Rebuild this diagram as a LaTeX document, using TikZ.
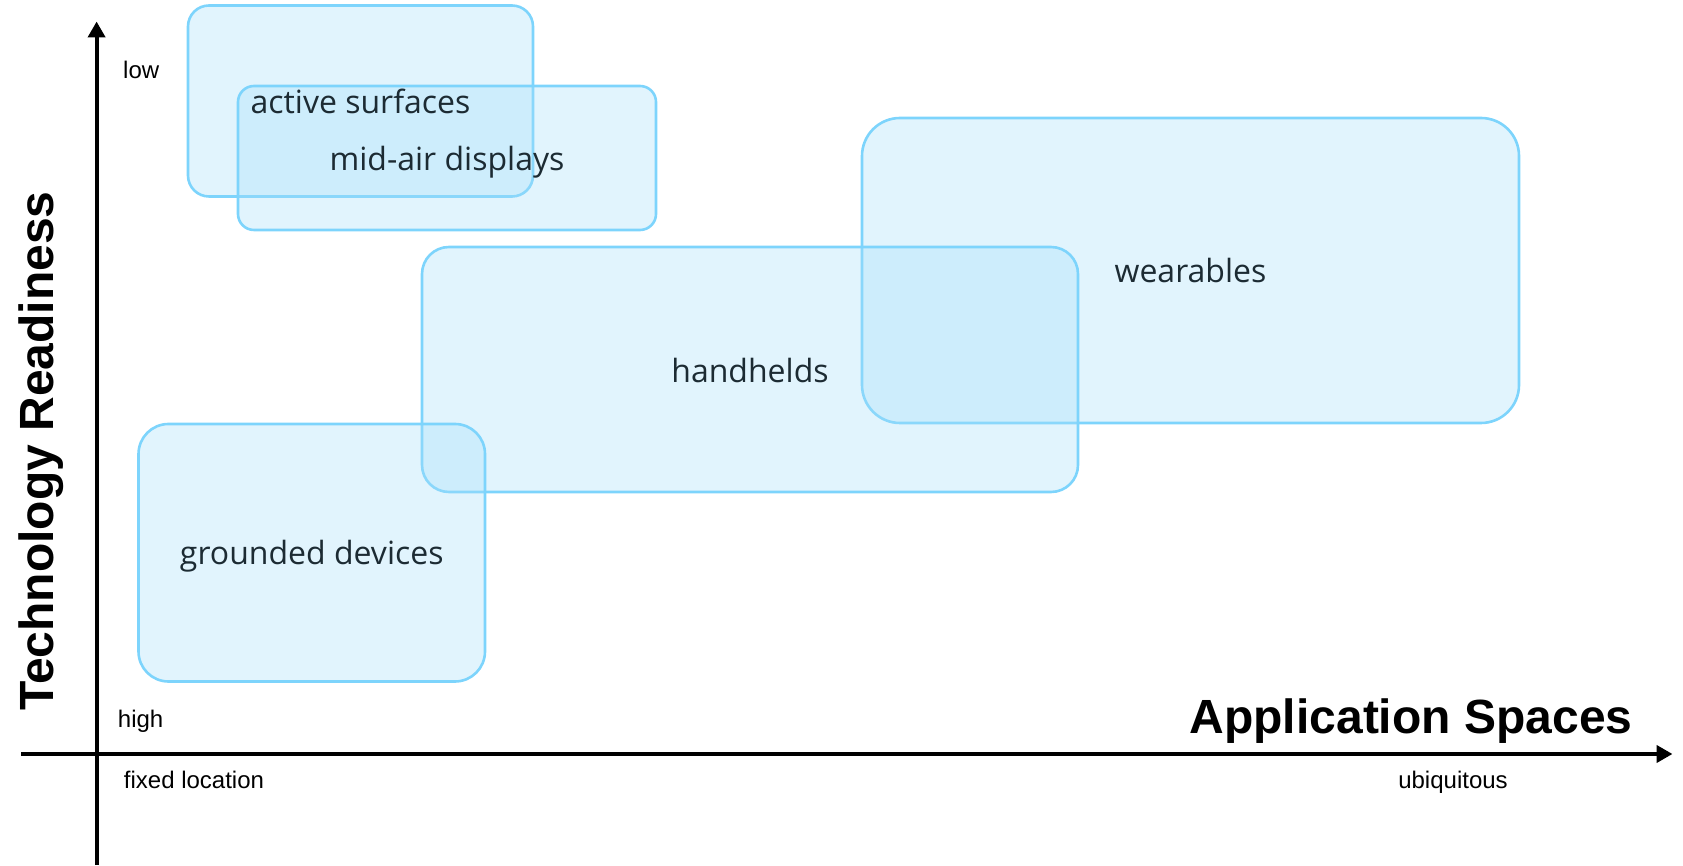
\documentclass[tikz,border=0pt]{standalone}
\usepackage{fontspec}
\setmainfont{Liberation Sans}
\newfontfamily\boxfont{Open Sans}
\usetikzlibrary{arrows.meta}
\definecolor{boxfill}{RGB}{165,222,249}
\definecolor{boxline}{RGB}{125,212,252}
\definecolor{labelc}{RGB}{28,43,51}
\tikzset{
  region/.style={draw=boxline, line width=2.6pt, fill=boxfill, fill opacity=0.333,
    draw opacity=1, inner sep=0pt, outer sep=0pt},
  regionlabel/.style={text=labelc, font=\boxfont\fontsize{32}{38}\selectfont, inner sep=0pt},
  axisline/.style={line width=4pt, -{Triangle[length=16pt,width=17pt]}},
  smalllabel/.style={font=\fontsize{24}{28}\selectfont, inner sep=0pt},
  biglabel/.style={font=\bfseries\fontsize{48}{56}\selectfont, inner sep=0pt}
}
\begin{document}
\begin{tikzpicture}[x=1pt,y=1pt]
\useasboundingbox (0,0) rectangle (1683,865);
% regions
\node[region, rounded corners=21pt, minimum width=345pt, minimum height=191pt] (active) at (360.5,764) {};
\node[region, rounded corners=16pt, minimum width=418pt, minimum height=144pt] (midair) at (447,707) {};
\node[region, rounded corners=38pt, minimum width=657pt, minimum height=305pt] (wear) at (1190.5,594.5) {};
\node[region, rounded corners=27pt, minimum width=656pt, minimum height=245pt] (hand) at (750,495.5) {};
\node[region, rounded corners=30pt, minimum width=346.5pt, minimum height=257.5pt] (ground) at (311.75,312.25) {};
% region labels
\node[regionlabel] (activeL) at (active.center) {active surfaces};
\node[regionlabel, yshift=-4pt] (midairL) at (midair.center) {mid-air displays};
\node[regionlabel] (wearL) at (wear.center) {wearables};
\node[regionlabel, yshift=-1pt] (handL) at (hand.center) {handhelds};
\node[regionlabel, yshift=-3pt] (groundL) at (ground.center) {grounded devices};
% axes
\coordinate (yb) at (96.6,0);
\coordinate (yt) at (96.6,843.5);
\coordinate (xl) at (21,111);
\coordinate (xr) at (1672.5,111);
\draw[axisline] (yb) -- (yt);
\draw[axisline] (xl) -- (xr);
% axis labels
\node[smalllabel, anchor=base west] (low) at (123,786.6) {low};
\node[smalllabel, anchor=base] (high) at (140.6,138) {high};
\node[smalllabel, anchor=base] (fixed) at (194,77) {fixed location};
\node[smalllabel, anchor=base] (ubiq) at (1453,77) {ubiquitous};
\node[biglabel, anchor=base] (appsp) at (1411,132) {Application Spaces};
\node[biglabel, anchor=base, rotate=90] (techr) at (53,414) {Technology Readiness};
\end{tikzpicture}
\end{document}
